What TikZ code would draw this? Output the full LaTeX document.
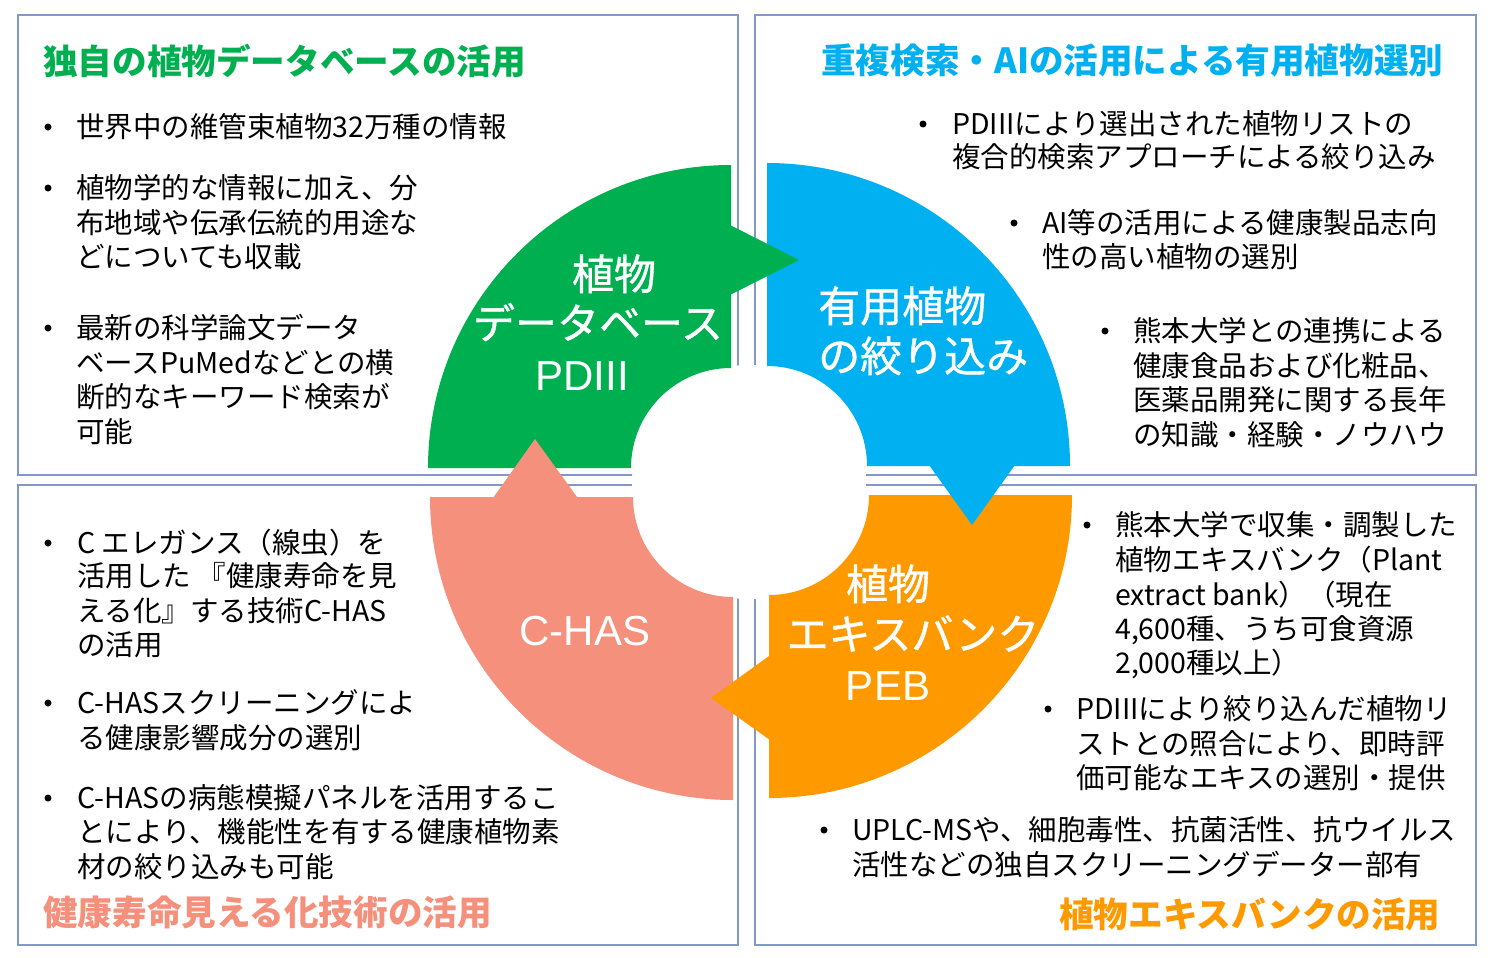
\documentclass[tikz,border=0pt]{standalone}
\usepackage{fontspec}
\usepackage{graphicx}
\setmainfont{Noto Sans CJK JP}
\newfontfamily\latf{Liberation Sans}
\newfontfamily\lblf[FakeBold=1]{Noto Sans CJK JP}
\definecolor{boxc}{RGB}{132,151,200}
\definecolor{cgreen}{RGB}{0,176,80}
\definecolor{cblue}{RGB}{0,176,240}
\definecolor{corange}{RGB}{255,153,0}
\definecolor{cpink}{RGB}{244,144,124}
\newcommand\bodyfnt{\fontsize{28.5}{34}\selectfont}
\newcommand\ttlfnt{\bfseries\fontsize{34.6}{40}\selectfont}
\newcommand\lblfnt{\lblf\fontsize{42}{48}\selectfont}
\newcommand\latlblfnt{\latf\fontsize{42}{48}\selectfont}
\begin{document}
\begin{tikzpicture}[x=1pt,y=-1pt,
  box/.style={draw=boxc,line width=1.2pt},
  body/.style={anchor=west,inner sep=0pt,font=\bodyfnt,text=black,text height=23pt,text depth=1.5pt},
  ttl/.style={anchor=west,inner sep=0pt,font=\ttlfnt,text height=27pt,text depth=2pt},
  lbl/.style={inner sep=0pt,text=white,font=\lblfnt,text height=34pt,text depth=2.5pt},
  latlbl/.style={inner sep=0pt,text=white,font=\latlblfnt,text height=30pt,text depth=0pt},
  bul/.style={circle,fill=black,inner sep=0pt,minimum size=7pt}]
\useasboundingbox (0,0) rectangle (1496,958);
\fill[white] (0,0) rectangle (1496,958);
% boxes
\draw[box] (18,15) rectangle (738,475);
\draw[box] (755,15) rectangle (1476,475);
\draw[box] (18,485) rectangle (738,945);
\draw[box] (755,485) rectangle (1476,945);
% centre disk
\fill[white] (749,482) circle[radius=117pt];
% quadrant bodies
\fill[cgreen] (428,468) arc[start angle=180,end angle=90,radius=303pt] -- (731,368) arc[start angle=90,end angle=180,radius=100pt] -- cycle;
\fill[cblue] (767,163) arc[start angle=90,end angle=0,radius=303pt] -- (867,466) arc[start angle=0,end angle=90,radius=100pt] -- cycle;
\fill[corange] (1072,495) arc[start angle=0,end angle=-90,radius=303pt] -- (769,595) arc[start angle=-90,end angle=0,radius=100pt] -- cycle;
\fill[cpink] (733,800) arc[start angle=270,end angle=180,radius=303pt] -- (633,497) arc[start angle=180,end angle=270,radius=100pt] -- cycle;
% arrow heads
\fill[cgreen] (726,225) -- (730,225) -- (799,260) -- (730,295) -- (726,295) -- cycle;
\fill[cblue] (929,462) -- (929,465) -- (972,525) -- (1015,465) -- (1015,462) -- cycle;
\fill[corange] (773,656) -- (769,656) -- (711,698) -- (770,740) -- (773,740) -- cycle;
\fill[cpink] (493,501) -- (493,498) -- (535,439) -- (577,497) -- (577,501) -- cycle;
% ring labels
\node[lbl] (g1) at (614,274) {植物};
\node[lbl] (g2) at (598,323) {データベース};
\node[latlbl] (g3) at (582,375) {PDIII};
\node[lbl,anchor=west] (b1) at (818,306) {有用植物};
\node[lbl,anchor=west] (b2) at (818,356) {の絞り込み};
\node[lbl] (o1) at (888,584) {植物};
\node[lbl] (o2) at (913,634) {エキスバンク};
\node[latlbl] (o3) at (888,685) {PEB};
\node[latlbl] (p1) at (585,630) {C-HAS};
% top-left box
\node[ttl,text=cgreen] (t1) at (43,62) {独自の植物データベースの活用};
\node[bul] (d11) at (48,127) {};
\node[body] (l11) at (76,127) {世界中の維管束植物32万種の情報};
\node[bul] (d12) at (48,188) {};
\node[body] (l12a) at (76,188) {植物学的な情報に加え、分};
\node[body] (l12b) at (76,223) {布地域や伝承伝統的用途な};
\node[body] (l12c) at (76,257) {どについても収載};
\node[bul] (d13) at (48,328) {};
\node[body] (l13a) at (76,328) {最新の科学論文データ};
\node[body] (l13b) at (76,363) {ベースPuMedなどとの横};
\node[body] (l13c) at (76,397) {断的なキーワード検索が};
\node[body] (l13d) at (76,432) {可能};
% top-right box
\node[ttl,text=cblue] (t2) at (821,61) {重複検索・AIの活用による有用植物選別};
\node[bul] (d21) at (923,124) {};
\node[body] (l21a) at (952,124) {PDIIIにより選出された植物リストの};
\node[body] (l21b) at (952,157) {複合的検索アプローチによる絞り込み};
\node[bul] (d22) at (1014,223) {};
\node[body] (l22a) at (1042,223) {AI等の活用による健康製品志向};
\node[body] (l22b) at (1042,257) {性の高い植物の選別};
\node[bul] (d23) at (1105,331) {};
\node[body] (l23a) at (1133,331) {熊本大学との連携による};
\node[body] (l23b) at (1133,366) {健康食品および化粧品、};
\node[body] (l23c) at (1133,400) {医薬品開発に関する長年};
\node[body] (l23d) at (1133,435) {の知識・経験・ノウハウ};
% bottom-left box
\node[bul] (d31) at (48,543) {};
\node[body] (l31a) at (77,543) {C エレガンス（線虫）を};
\node[body] (l31b) at (77,576) {活用した 『健康寿命を見};
\node[body] (l31c) at (77,611) {える化』する技術C-HAS};
\node[body] (l31d) at (77,645) {の活用};
\node[bul] (d32) at (48,703) {};
\node[body] (l32a) at (77,703) {C-HASスクリーニングによ};
\node[body] (l32b) at (77,738) {る健康影響成分の選別};
\node[bul] (d33) at (48,798) {};
\node[body] (l33a) at (77,798) {C-HASの病態模擬パネルを活用するこ};
\node[body] (l33b) at (77,832) {とにより、機能性を有する健康植物素};
\node[body] (l33c) at (77,867) {材の絞り込みも可能};
\node[ttl,text=cpink] (t3) at (43,913) {健康寿命見える化技術の活用};
% bottom-right box
\node[bul] (d41) at (1087,525) {};
\node[body] (l41a) at (1115,525) {熊本大学で収集・調製した};
\node[body] (l41b) at (1115,560) {植物エキスバンク（Plant};
\node[body] (l41c) at (1115,595) {extract bank）（現在};
\node[body] (l41d) at (1115,629) {4,600種、うち可食資源};
\node[body] (l41e) at (1115,663) {2,000種以上）};
\node[bul] (d42) at (1048,709) {};
\node[body] (l42a) at (1076,709) {PDIIIにより絞り込んだ植物リ};
\node[body] (l42b) at (1076,744) {ストとの照合により、即時評};
\node[body] (l42c) at (1076,778) {価可能なエキスの選別・提供};
\node[bul] (d43) at (824,830) {};
\node[body] (l43a) at (852,830) {UPLC-MSや、細胞毒性、抗菌活性、抗ウイルス};
\node[body] (l43b) at (852,865) {活性などの独自スクリーニングデーター部有};
\node[ttl,text=corange] (t4) at (1059,915) {植物エキスバンクの活用};
\end{tikzpicture}
\end{document}
